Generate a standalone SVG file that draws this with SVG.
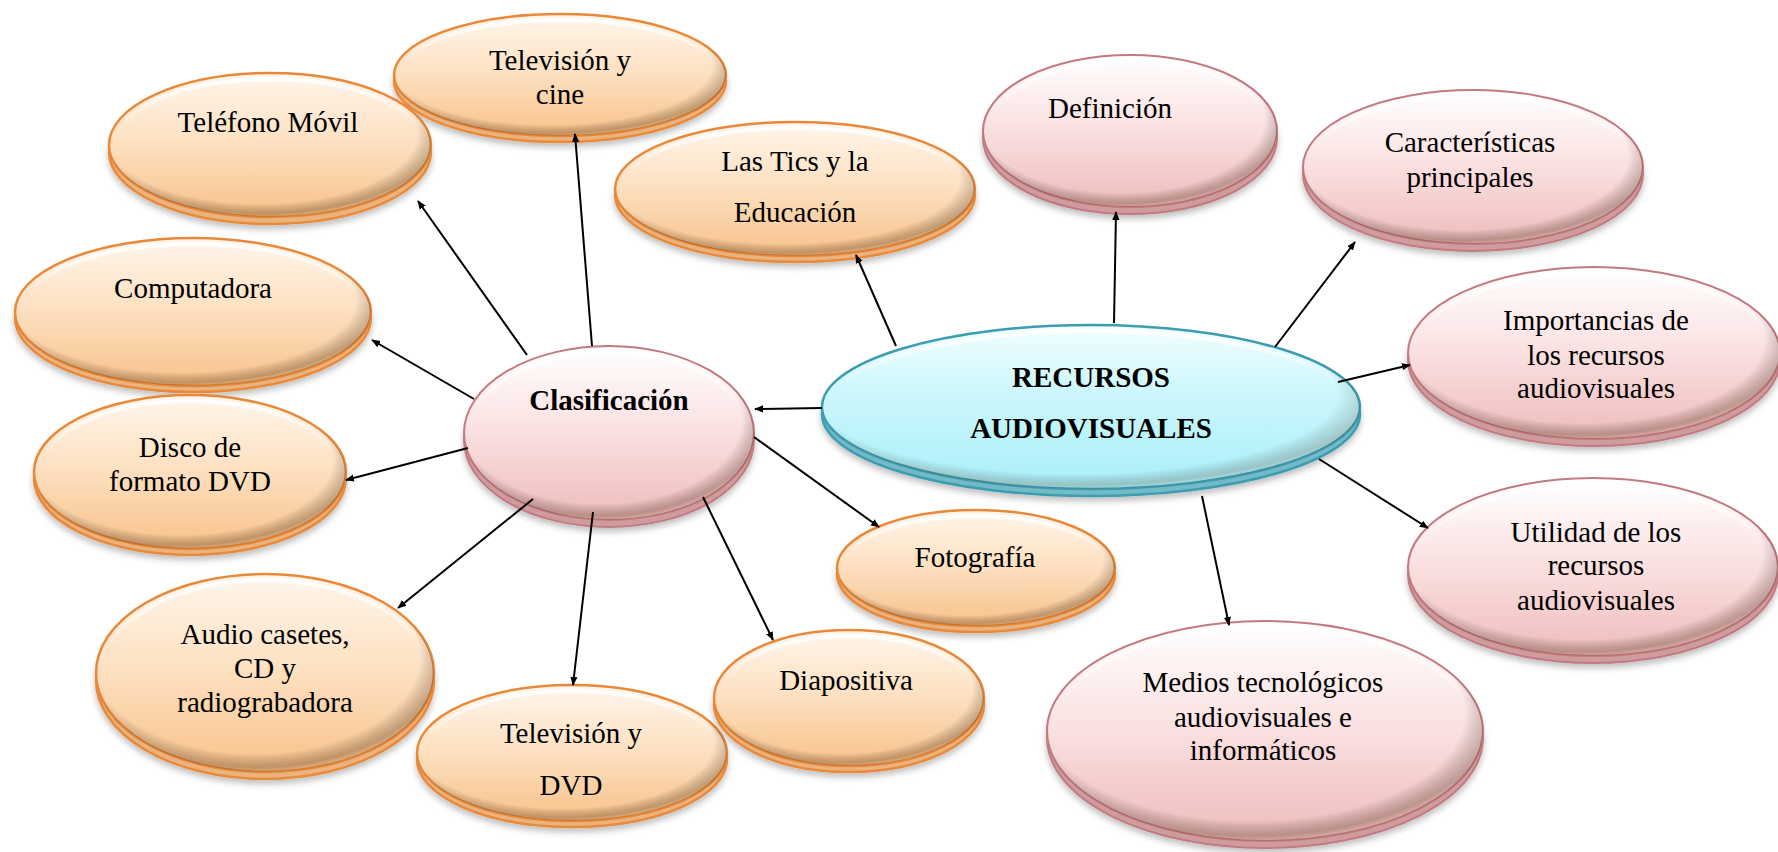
<svg xmlns="http://www.w3.org/2000/svg" width="1778" height="852" viewBox="0 0 1778 852">
<defs>
<linearGradient id="gOr" x1="0" y1="0" x2="0" y2="1">
<stop offset="0" stop-color="#fff6ec"/><stop offset="0.45" stop-color="#fde2c4"/><stop offset="1" stop-color="#f8c28a"/>
</linearGradient>
<linearGradient id="gPk" x1="0" y1="0" x2="0" y2="1">
<stop offset="0" stop-color="#ffffff"/><stop offset="0.45" stop-color="#fbe3e3"/><stop offset="1" stop-color="#efbcbc"/>
</linearGradient>
<linearGradient id="gBl" x1="0" y1="0" x2="0" y2="1">
<stop offset="0" stop-color="#f2feff"/><stop offset="0.4" stop-color="#cdf7fc"/><stop offset="1" stop-color="#a9eff9"/>
</linearGradient>
<linearGradient id="hl" x1="0" y1="0" x2="0" y2="1">
<stop offset="0" stop-color="#fff" stop-opacity="0.95"/><stop offset="0.35" stop-color="#fff" stop-opacity="0"/>
</linearGradient>
<radialGradient id="bevel" cx="0.47" cy="0.42" r="0.58">
<stop offset="0.84" stop-color="#000" stop-opacity="0"/><stop offset="0.96" stop-color="#4a2a10" stop-opacity="0.32"/><stop offset="1" stop-color="#4a2a10" stop-opacity="0.15"/>
</radialGradient>
<filter id="sh" x="-10%" y="-10%" width="120%" height="130%">
<feDropShadow dx="0" dy="4" stdDeviation="3" flood-color="#000" flood-opacity="0.25"/>
</filter>
<marker id="ar" viewBox="0 0 10 10" refX="9" refY="5" markerWidth="9" markerHeight="9" markerUnits="userSpaceOnUse" orient="auto">
<path d="M0,1 L10,5 L0,9 z" fill="#000"/>
</marker>
<style>
.or{fill:url(#gOr);stroke:#e8893a;stroke-width:2.5}
.orR{fill:#eab27c;stroke:#e8893a;stroke-width:2.5;filter:url(#sh)}
.pk{fill:url(#gPk);stroke:#c27a80;stroke-width:2}
.pkR{fill:#cf9c9e;stroke:#c27a80;stroke-width:2;filter:url(#sh)}
.bl{fill:url(#gBl);stroke:#3e9cb0;stroke-width:2.5}
.blR{fill:#72bac7;stroke:#3e9cb0;stroke-width:2.5;filter:url(#sh)}
.bv{fill:url(#bevel);stroke:none}
.h{fill:none;stroke:url(#hl);stroke-width:4}
.t{font-family:"Liberation Serif","Times New Roman",serif;font-size:29px;fill:#000;text-anchor:middle}
.b{font-weight:bold}
.c{stroke:#000;stroke-width:2;fill:none;marker-end:url(#ar)}
</style>
</defs>
<rect width="1778" height="852" fill="#fff"/>

<g id="tvcine"><ellipse class="orR" cx="560" cy="81" rx="166" ry="61"/><ellipse class="or" cx="560" cy="75" rx="166" ry="61"/><ellipse class="bv" cx="560" cy="75" rx="166" ry="61"/><ellipse class="h" cx="560" cy="76" rx="160" ry="56"/>
<text class="t" x="560" y="70">Televisión y</text><text class="t" x="560" y="104">cine</text></g>

<g id="telefono"><ellipse class="orR" cx="270" cy="152" rx="161" ry="72"/><ellipse class="or" cx="270" cy="145" rx="161" ry="72"/><ellipse class="bv" cx="270" cy="145" rx="161" ry="72"/><ellipse class="h" cx="270" cy="146" rx="155" ry="67"/>
<text class="t" x="268" y="132">Teléfono Móvil</text></g>

<g id="tics"><ellipse class="orR" cx="795" cy="195" rx="180" ry="67"/><ellipse class="or" cx="795" cy="189" rx="180" ry="67"/><ellipse class="bv" cx="795" cy="189" rx="180" ry="67"/><ellipse class="h" cx="795" cy="190" rx="174" ry="62"/>
<text class="t" x="795" y="171">Las Tics y la</text><text class="t" x="795" y="222">Educación</text></g>

<g id="computadora"><ellipse class="orR" cx="193" cy="318" rx="178" ry="74"/><ellipse class="or" cx="193" cy="312" rx="178" ry="74"/><ellipse class="bv" cx="193" cy="312" rx="178" ry="74"/><ellipse class="h" cx="193" cy="313" rx="172" ry="69"/>
<text class="t" x="193" y="298">Computadora</text></g>

<g id="disco"><ellipse class="orR" cx="190" cy="478" rx="156" ry="77"/><ellipse class="or" cx="190" cy="472" rx="156" ry="77"/><ellipse class="bv" cx="190" cy="472" rx="156" ry="77"/><ellipse class="h" cx="190" cy="473" rx="150" ry="72"/>
<text class="t" x="190" y="457">Disco de</text><text class="t" x="190" y="491">formato DVD</text></g>

<g id="audio"><ellipse class="orR" cx="265" cy="680" rx="169" ry="99"/><ellipse class="or" cx="265" cy="673" rx="169" ry="99"/><ellipse class="bv" cx="265" cy="673" rx="169" ry="99"/><ellipse class="h" cx="265" cy="674" rx="163" ry="94"/>
<text class="t" x="265" y="644">Audio casetes,</text><text class="t" x="265" y="678">CD y</text><text class="t" x="265" y="712">radiograbadora</text></g>

<g id="tvdvd"><ellipse class="orR" cx="572" cy="759" rx="155" ry="68"/><ellipse class="or" cx="572" cy="753" rx="155" ry="68"/><ellipse class="bv" cx="572" cy="753" rx="155" ry="68"/><ellipse class="h" cx="572" cy="754" rx="149" ry="63"/>
<text class="t" x="571" y="743">Televisión y</text><text class="t" x="571" y="795">DVD</text></g>

<g id="diapositiva"><ellipse class="orR" cx="849" cy="704" rx="135" ry="68"/><ellipse class="or" cx="849" cy="698" rx="135" ry="68"/><ellipse class="bv" cx="849" cy="698" rx="135" ry="68"/><ellipse class="h" cx="849" cy="699" rx="129" ry="63"/>
<text class="t" x="846" y="690">Diapositiva</text></g>

<g id="fotografia"><ellipse class="orR" cx="976" cy="574" rx="139" ry="58"/><ellipse class="or" cx="976" cy="568" rx="139" ry="58"/><ellipse class="bv" cx="976" cy="568" rx="139" ry="58"/><ellipse class="h" cx="976" cy="569" rx="133" ry="53"/>
<text class="t" x="975" y="567">Fotografía</text></g>

<g id="clasificacion"><ellipse class="pkR" cx="609" cy="440" rx="145" ry="87"/><ellipse class="pk" cx="609" cy="433" rx="145" ry="87"/><ellipse class="bv" cx="609" cy="433" rx="145" ry="87"/><ellipse class="h" cx="609" cy="434" rx="139" ry="82"/>
<text class="t b" x="609" y="410">Clasificación</text></g>

<g id="recursos"><ellipse class="blR" cx="1091" cy="414" rx="269" ry="82"/><ellipse class="bl" cx="1091" cy="407" rx="269" ry="82"/><ellipse class="bv" cx="1091" cy="407" rx="269" ry="82" opacity="0.7"/><ellipse class="h" cx="1091" cy="408" rx="262" ry="77"/>
<text class="t b" x="1091" y="387" font-size="28">RECURSOS</text><text class="t b" x="1091" y="438" font-size="28">AUDIOVISUALES</text></g>

<g id="definicion"><ellipse class="pkR" cx="1130" cy="138" rx="147" ry="76"/><ellipse class="pk" cx="1130" cy="131" rx="147" ry="76"/><ellipse class="bv" cx="1130" cy="131" rx="147" ry="76"/><ellipse class="h" cx="1130" cy="132" rx="141" ry="71"/>
<text class="t" x="1110" y="118">Definición</text></g>

<g id="caracteristicas"><ellipse class="pkR" cx="1473" cy="174" rx="170" ry="77"/><ellipse class="pk" cx="1473" cy="167" rx="170" ry="77"/><ellipse class="bv" cx="1473" cy="167" rx="170" ry="77"/><ellipse class="h" cx="1473" cy="168" rx="164" ry="72"/>
<text class="t" x="1470" y="152">Características</text><text class="t" x="1470" y="187">principales</text></g>

<g id="importancias"><ellipse class="pkR" cx="1594" cy="360" rx="186" ry="86"/><ellipse class="pk" cx="1594" cy="353" rx="186" ry="86"/><ellipse class="bv" cx="1594" cy="353" rx="186" ry="86"/><ellipse class="h" cx="1594" cy="354" rx="180" ry="81"/>
<text class="t" x="1596" y="330">Importancias de</text><text class="t" x="1596" y="365">los recursos</text><text class="t" x="1596" y="398">audiovisuales</text></g>

<g id="utilidad"><ellipse class="pkR" cx="1593" cy="574" rx="185" ry="89"/><ellipse class="pk" cx="1593" cy="567" rx="185" ry="89"/><ellipse class="bv" cx="1593" cy="567" rx="185" ry="89"/><ellipse class="h" cx="1593" cy="568" rx="179" ry="84"/>
<text class="t" x="1596" y="542">Utilidad de los</text><text class="t" x="1596" y="575">recursos</text><text class="t" x="1596" y="610">audiovisuales</text></g>

<g id="medios"><ellipse class="pkR" cx="1265" cy="738" rx="218" ry="110"/><ellipse class="pk" cx="1265" cy="731" rx="218" ry="110"/><ellipse class="bv" cx="1265" cy="731" rx="218" ry="110"/><ellipse class="h" cx="1265" cy="732" rx="212" ry="105"/>
<text class="t" x="1263" y="692">Medios tecnológicos</text><text class="t" x="1263" y="727">audiovisuales e</text><text class="t" x="1263" y="760">informáticos</text></g>

<g id="connectors">
<line class="c" x1="527" y1="355" x2="418" y2="201"/>
<line class="c" x1="592" y1="346" x2="575" y2="134"/>
<line class="c" x1="474" y1="399" x2="372" y2="340"/>
<line class="c" x1="468" y1="448" x2="346" y2="480"/>
<line class="c" x1="533" y1="499" x2="398" y2="608"/>
<line class="c" x1="593" y1="512" x2="573" y2="685"/>
<line class="c" x1="703" y1="497" x2="773" y2="640"/>
<line class="c" x1="754" y1="437" x2="879" y2="527"/>
<line class="c" x1="822" y1="408" x2="755" y2="409"/>
<line class="c" x1="896" y1="346" x2="856" y2="255"/>
<line class="c" x1="1114" y1="323" x2="1116" y2="212"/>
<line class="c" x1="1275" y1="347" x2="1355" y2="242"/>
<line class="c" x1="1338" y1="382" x2="1410" y2="365"/>
<line class="c" x1="1319" y1="459" x2="1428" y2="528"/>
<line class="c" x1="1202" y1="496" x2="1229" y2="625"/>
</g>
</svg>
